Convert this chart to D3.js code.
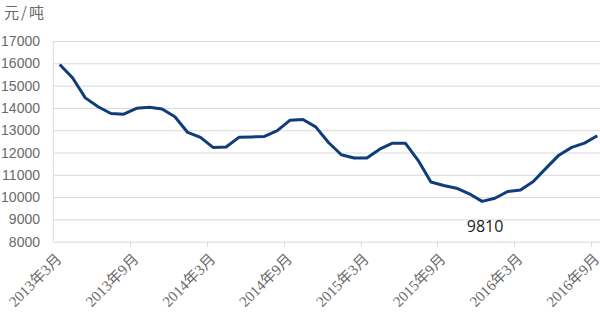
<!DOCTYPE html>
<html>
<head>
<meta charset="utf-8">
<script src="https://cdn.jsdelivr.net/npm/d3@7"></script>
<style>
  body { margin: 0; background: #fff; }
  svg { display: block; }
</style>
</head>
<body>
<svg class="chart"></svg>
<script>
// monthly price, 2013-03 .. 2016-09
var months = [];
for (var yr = 2013; yr <= 2016; yr++) {
  for (var m = 1; m <= 12; m++) {
    if ((yr == 2013 && m < 3) || (yr == 2016 && m > 9)) continue;
    months.push(yr + "年" + m + "月");
  }
}
var prices = [15950, 15350, 14450, 14050, 13750, 13720, 13980, 14030, 13950, 13600,
              12900, 12680, 12220, 12250, 12680, 12700, 12720, 12980, 13450, 13480,
              13150, 12450, 11900, 11750, 11750, 12150, 12420, 12420, 11650, 10680,
              10520, 10400, 10150, 9810, 9950, 10250, 10320, 10700, 11300, 11880,
              12230, 12420, 12750];
var yTicks = [8000, 9000, 10000, 11000, 12000, 13000, 14000, 15000, 16000, 17000];
var xLabels = ["2013年3月", "2013年9月", "2014年3月", "2014年9月",
               "2015年3月", "2015年9月", "2016年3月", "2016年9月"];
var minLabel = "9810";

let w = 600;
let h = 312;
let padL = 53.3, padT = 41, padB = 241.7;

var svg = d3.select(".chart")
            .attr("width", w)
            .attr("height", h);

var xS = d3.scaleBand()
         .domain(months)
         .range([padL, padL + months.length * 12.8])
         .padding(0);

var yS = d3.scaleLinear()
         .domain([8000, 17000])
         .range([padB, padT]);

// gridlines
svg.append("g")
   .selectAll("line")
   .data(yTicks.slice(1))
   .enter().append("line")
   .attr("x1", padL)
   .attr("x2", w)
   .attr("y1", d => yS(d) + 0.5)
   .attr("y2", d => yS(d) + 0.5)
   .attr("stroke", "#d9d9d9")
   .attr("stroke-width", 1);

// y labels
svg.append("g")
   .selectAll("text")
   .data(yTicks)
   .enter().append("text")
   .attr("x", 40)
   .attr("y", d => yS(d))
   .attr("dy", "0.36em")
   .attr("text-anchor", "end")
   .attr("font-family", "Liberation Sans, Arial, sans-serif")
   .attr("font-size", "14px")
   .attr("fill", "#6a6a6a")
   .text(d => d);

// axes lines
svg.append("line")
   .attr("x1", padL).attr("x2", padL)
   .attr("y1", padT).attr("y2", padB)
   .attr("stroke", "#d9d9d9");
svg.append("line")
   .attr("x1", padL).attr("x2", w)
   .attr("y1", padB + 0.5).attr("y2", padB + 0.5)
   .attr("stroke", "#d9d9d9");

// tick marks every 6 months at band edges
svg.append("g")
   .selectAll("line")
   .data(xLabels.slice(1))
   .enter().append("line")
   .attr("x1", d => Math.round(xS(d)) + 0.5)
   .attr("x2", d => Math.round(xS(d)) + 0.5)
   .attr("y1", padB)
   .attr("y2", padB + 5)
   .attr("stroke", "#d9d9d9");

// x labels
svg.append("g")
   .selectAll("text")
   .data(xLabels)
   .enter().append("text")
   .attr("transform", d => "translate(" + (xS(d) + xS.bandwidth() / 2 + 3) + "," + 260 + ") rotate(-45)")
   .attr("text-anchor", "end")
   .attr("font-family", "Liberation Serif, 'Noto Sans CJK SC', serif")
   .attr("font-size", "15px")
   .attr("fill", "#6a6a6a")
   .text(d => d);

// price line
var line = d3.line()
   .x((d, i) => xS(months[i]) + xS.bandwidth() / 2)
   .y(d => yS(d));

svg.append("path")
   .datum(prices)
   .attr("d", line)
   .attr("fill", "none")
   .attr("stroke", "#0e3d7a")
   .attr("stroke-width", 3)
   .attr("stroke-linejoin", "round");

// unit
svg.append("text")
   .attr("x", 4)
   .attr("y", 18)
   .attr("font-family", "'Noto Sans CJK SC', sans-serif")
   .attr("font-size", "15px")
   .attr("letter-spacing", "2px")
   .attr("fill", "#6a6a6a")
   .text("元/吨");

// min annotation
var iMin = prices.indexOf(d3.min(prices));
svg.append("text")
   .attr("x", xS(months[iMin]) + xS.bandwidth() / 2 + 3)
   .attr("y", yS(prices[iMin]) + 31)
   .attr("text-anchor", "middle")
   .attr("font-family", "'Open Sans', 'Noto Sans', sans-serif")
   .attr("font-size", "16px")
   .attr("fill", "#222")
   .text(minLabel);
</script>
</body>
</html>
